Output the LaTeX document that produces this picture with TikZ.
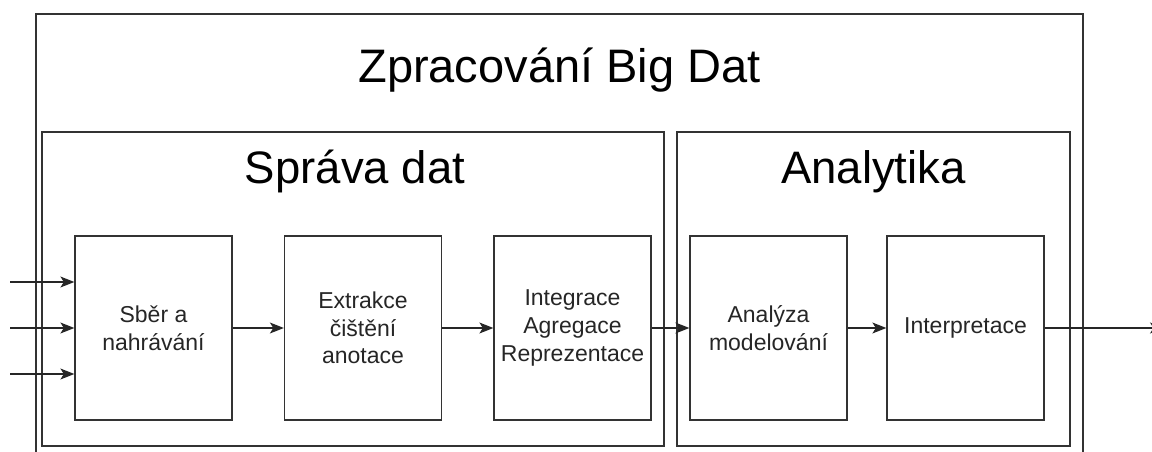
\documentclass[tikz,border=0pt]{standalone}
\usepackage{fontspec}
\setmainfont{Liberation Sans}
\usetikzlibrary{arrows.meta}

\tikzset{
  frame/.style={draw=black!80, line width=1.3pt},
  stage/.style={draw=black!80, line width=1.3pt, minimum width=157pt, minimum height=184pt,
    inner sep=0pt, align=center, text=black!85, font=\fontsize{23}{27.6}\selectfont},
  group/.style={draw=black!80, line width=1.3pt, inner sep=0pt},
  flow/.style={draw=black!85, line width=1.2pt, -{Stealth[length=14pt,width=11pt,inset=3.5pt]}},
  headline/.style={anchor=base, inner sep=0pt, text=black},
}

\begin{document}
\begin{tikzpicture}[x=1pt, y=-1pt]
  \useasboundingbox (0,0) rectangle (1152,452);

  % outer frame, open at the bottom
  \draw[frame] (36,452) -- (36,14) -- (1083,14) -- (1083,452);
  \node[headline, font=\fontsize{47}{56}\selectfont] (title) at (559.5,82) {Zpracování Big Dat};

  % the two phases
  \node[group, minimum width=622pt, minimum height=314pt] (sprava) at (353,289) {};
  \node[group, minimum width=393pt, minimum height=314pt] (analytika) at (873.5,289) {};
  \node[headline, font=\fontsize{45.5}{54}\selectfont] (spravaT) at (355,183) {Správa dat};
  \node[headline, font=\fontsize{45.5}{54}\selectfont] (analytikaT) at (873.5,183) {Analytika};

  % processing stages
  \node[stage] (sber) at (153.5,328) {Sběr a\\nahrávání};
  \node[stage] (extr) at (363,328) {Extrakce\\čištění\\anotace};
  \node[stage] (integ) at (572.5,328) {Integrace\\Agregace\\Reprezentace};
  \node[stage] (anal) at (768.5,328) {Analýza\\modelování};
  \node[stage] (interp) at (965.5,328) {Interpretace};

  % inputs and output
  \coordinate (in1) at (10,282);
  \coordinate (in2) at (10,328);
  \coordinate (in3) at (10,374);
  \coordinate (out) at (1164,328);

  \draw[flow] (in1) -- (sber.west |- in1);
  \draw[flow] (in2) -- (sber.west);
  \draw[flow] (in3) -- (sber.west |- in3);
  \draw[flow] (sber) -- (extr);
  \draw[flow] (extr) -- (integ);
  \draw[flow] (integ) -- (anal);
  \draw[flow] (anal) -- (interp);
  \draw[flow] (interp) -- (out);
\end{tikzpicture}
\end{document}
